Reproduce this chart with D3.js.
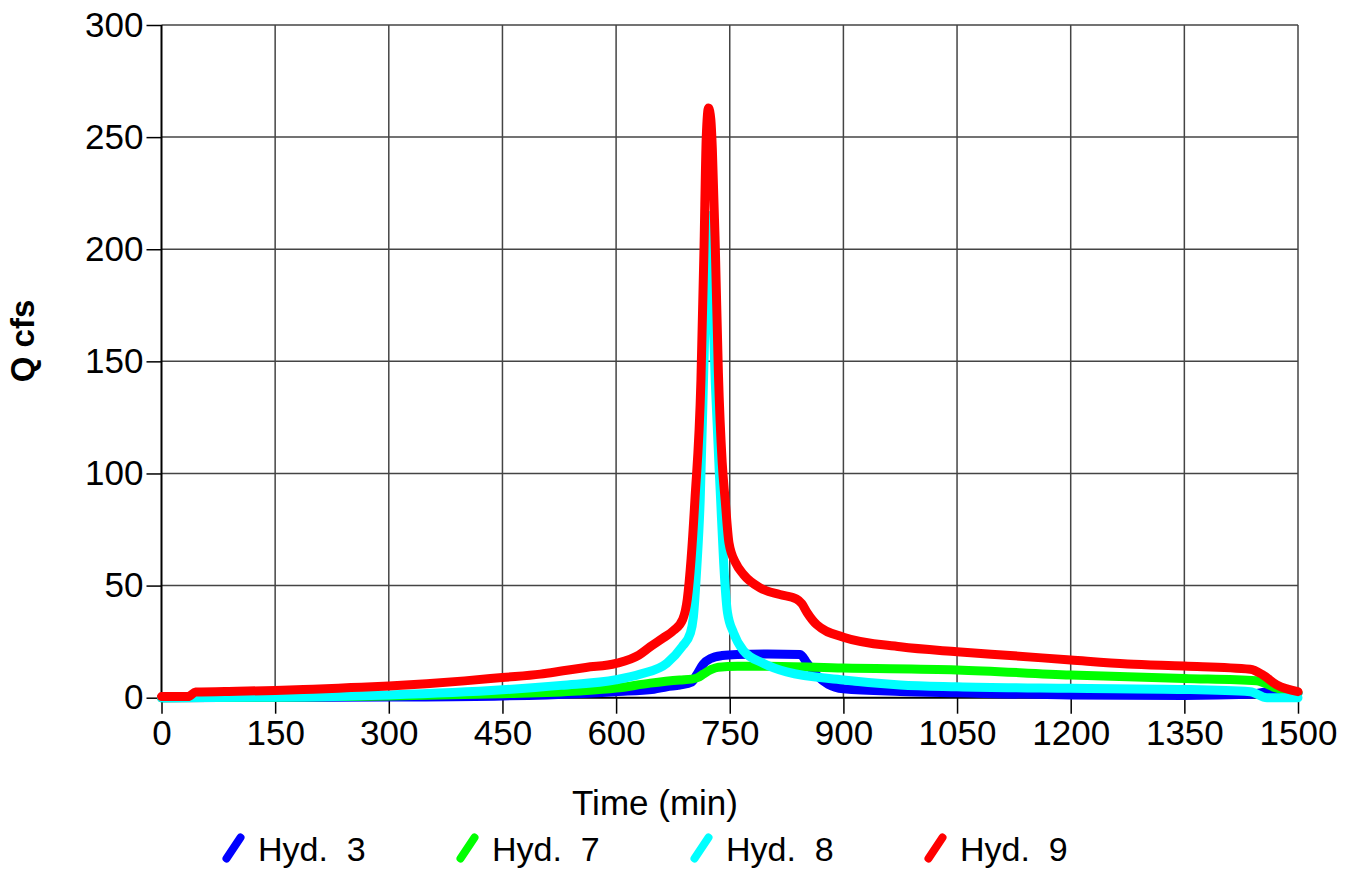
<!DOCTYPE html>
<html>
<head>
<meta charset="utf-8">
<script src="https://cdn.jsdelivr.net/npm/d3@7"></script>
<style>
  html, body { margin: 0; padding: 0; background: #fff; }
  svg { display: block; font-family: "Liberation Sans", Arial, sans-serif; }
</style>
</head>
<body>
<svg id="chart" width="1355" height="874"></svg>
<script>
// ---- data (time in min, Q in cfs) ----
const xTicks = [0, 150, 300, 450, 600, 750, 900, 1050, 1200, 1350, 1500];
const yTicks = [0, 50, 100, 150, 200, 250, 300];
const seriesNames = ["Hyd.  3", "Hyd.  7", "Hyd.  8", "Hyd.  9"];
const seriesColors = ["#0000ff", "#00ff00", "#00ffff", "#ff0000"];

const hyd3 = [[0,0],[150,0.1],[300,0.3],[450,0.8],[550,1.8],[600,2.7],[650,3.8],[667,4.9],[684,5.6],[700,7],[706,10],[715,15],[725,17.5],[740,18.8],[760,19.3],[800,19.5],[843,19.3],[852,15.4],[865,10],[880,6],[900,4],[975,2.8],[1050,2.2],[1200,1.2],[1350,1],[1437,1.5],[1460,2.5],[1500,2]];
const hyd7 = [[0,0],[150,0.2],[300,0.8],[450,1.8],[550,3],[600,4.3],[645,6.5],[684,7.9],[700,8.3],[708,9],[715,10.5],[725,12.5],[735,13.6],[760,14],[800,14],[900,13.2],[1050,12.4],[1200,10.1],[1350,8.6],[1445,7.6],[1470,4.5],[1500,2.3]];
const hyd8 = [[0,0],[150,0.2],[300,1.2],[450,3.5],[527,5.5],[600,8],[632,10.5],[667,15.4],[687,22.7],[698,28.8],[702,36],[706.5,58],[711,88],[716,150],[720,200],[722,215],[726,190],[731,140],[738,88],[742,60],[747,38],[755,29],[768,21],[794,15.4],[825,11.5],[900,7.9],[975,5.7],[1050,4.9],[1200,4.2],[1350,3.7],[1437,2.7],[1459,0],[1500,0]];
const hyd9 = [[0,0.5],[35,0.5],[45,2.5],[100,2.9],[150,3.2],[200,3.8],[250,4.5],[300,5.2],[350,6.2],[400,7.5],[450,9],[500,10.5],[530,12],[560,13.5],[600,15.3],[630,19],[645,22.7],[662,26.6],[676,30],[688,35],[694,44],[699,62],[704,88],[712,142],[716,200],[719,250],[722,263],[725,258],[727,245],[731,200],[735,145],[740,105],[744,88],[749,69],[758,60],[768,55],[790,49],[816,46],[838,44],[845,42],[852,38],[865,32.5],[900,27],[975,22.7],[1050,20.5],[1125,18.7],[1200,16.8],[1275,15],[1350,14.1],[1437,12.7],[1454,10.1],[1472,5.7],[1500,2.7]];
const allSeries = [hyd3, hyd7, hyd8, hyd9];

// ---- layout ----
const svg = d3.select("#chart");
const x = d3.scaleLinear().domain([0, 1500]).range([161.5, 1298]);
const y = d3.scaleLinear().domain([0, 300]).range([697.7, 25]);
const fontTick = 35;

// grid
const grid = svg.append("g");
grid.selectAll("line.v").data(xTicks.filter(d => d > 0)).join("line")
  .attr("x1", d => x(d)).attr("x2", d => x(d))
  .attr("y1", y(0)).attr("y2", y(300))
  .attr("stroke", "#444").attr("stroke-width", 1.5);
grid.selectAll("line.h").data(yTicks.filter(d => d > 0)).join("line")
  .attr("x1", x(0)).attr("x2", x(1500))
  .attr("y1", d => y(d)).attr("y2", d => y(d))
  .attr("stroke", "#444").attr("stroke-width", 1.5);

// axes
const xAxis = d3.axisBottom(x).tickValues(xTicks).tickSize(16).tickPadding(8).tickFormat(d3.format("d"));
const yAxis = d3.axisLeft(y).tickValues(yTicks).tickSize(15).tickPadding(3).tickFormat(d3.format("d"));

const gx = svg.append("g").attr("transform", `translate(0,${y(0)})`).call(xAxis);
const gy = svg.append("g").attr("transform", `translate(${x(0)},0)`).call(yAxis);
[gx, gy].forEach(g => {
  g.select(".domain").attr("stroke", "#000").attr("stroke-width", 2);
  g.selectAll(".tick line").attr("stroke", "#000").attr("stroke-width", 1.5);
  g.selectAll(".tick text").attr("fill", "#000")
    .style("font-size", fontTick + "px")
    .style("font-family", '"Liberation Sans", Arial, sans-serif');
});
gx.select(".domain").attr("d", `M${x(0)},0H${x(1500)}`);
gy.select(".domain").attr("d", `M0,${y(0)}V${y(300)}`);
gx.selectAll(".tick text").attr("dy", "0.71em").attr("y", 22);

// lines
const line = d3.line().x(d => x(d[0])).y(d => y(d[1])).curve(d3.curveMonotoneX);
svg.append("g").selectAll("path").data(allSeries).join("path")
  .attr("d", line)
  .attr("fill", "none")
  .attr("stroke", (d, i) => seriesColors[i])
  .attr("stroke-width", 9)
  .attr("stroke-linejoin", "round")
  .attr("stroke-linecap", "round");

// axis titles
svg.append("text").attr("x", 655).attr("y", 815)
  .attr("text-anchor", "middle").style("font-size", "35px").text("Time (min)");
svg.append("text").attr("transform", "translate(34,341) rotate(-90)")
  .attr("text-anchor", "middle").style("font-size", "33px").style("font-weight", "bold").text("Q cfs");

// legend
const leg = svg.append("g").selectAll("g").data(seriesNames).join("g")
  .attr("transform", (d, i) => `translate(${222 + i * 234},0)`);
leg.append("line")
  .attr("x1", 4.5).attr("y1", 858.5).attr("x2", 18.5).attr("y2", 837.5)
  .attr("stroke", (d, i) => seriesColors[i])
  .attr("stroke-width", 8).attr("stroke-linecap", "round");
leg.append("text").attr("x", 36).attr("y", 861)
  .style("font-size", "34px").style("white-space", "pre").text(d => d);
</script>
</body>
</html>
